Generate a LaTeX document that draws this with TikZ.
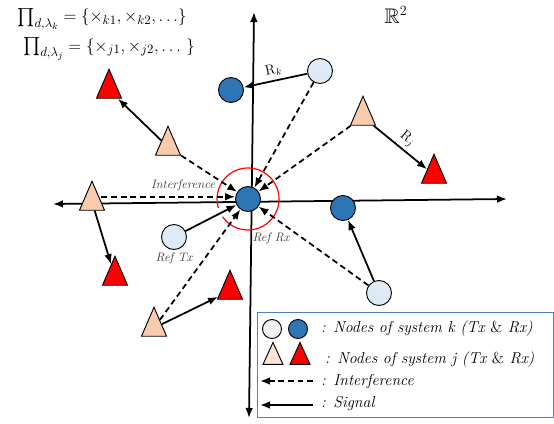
\documentclass[tikz,border=0pt]{standalone}
\usepackage{amssymb}
\usetikzlibrary{positioning,arrows.meta,shapes.geometric}

\definecolor{rxblue}{RGB}{46,117,182}
\definecolor{txblue}{RGB}{222,235,247}
\definecolor{txpeach}{RGB}{248,203,173}
\definecolor{lgdpeach}{RGB}{252,228,214}
\definecolor{lgdgray}{RGB}{240,240,240}
\definecolor{boxblue}{RGB}{79,129,189}
\definecolor{lblgray}{RGB}{64,64,64}

\begin{document}
\begin{tikzpicture}[
    x=0.03cm, y=-0.03cm,
    >={Latex[length=3mm,width=2.3mm]},
    knode/.style={
        circle,
        draw=black,
        line width=0.8pt,
        minimum size=0.75cm,
        inner sep=0pt
    },
    ktx/.style={knode, fill=txblue},
    krx/.style={knode, fill=rxblue},
    jnode/.style={
        isosceles triangle,
        isosceles triangle stretches,
        shape border rotate=90,
        draw=black,
        line width=0.8pt,
        minimum width=0.75cm,
        minimum height=0.87cm,
        inner sep=0pt
    },
    jtx/.style={jnode, fill=txpeach},
    jrx/.style={jnode, fill=red},
    signal/.style={->, line width=1.5pt},
    interf/.style={->, line width=1.5pt, dash pattern=on 5pt off 3.2pt},
    axis/.style={<->, line width=1.5pt},
    lbl/.style={font=\fontsize{10.5}{12}\selectfont\itshape, text=lblgray, inner sep=1pt},
    lgd/.style={font=\fontsize{13.5}{15}\selectfont\itshape, anchor=west, inner sep=0pt},
    rlbl/.style={font=\fontsize{12}{13}\selectfont, inner sep=3pt},
    setlbl/.style={font=\fontsize{15.5}{17}\selectfont, inner sep=0pt}
]
\useasboundingbox (0,0) rectangle (554,424);

% --- Axes ---
\coordinate (xl) at (53,204);
\coordinate (xr) at (507,199);
\coordinate (yt) at (254,12);
\coordinate (yb) at (249,418);
\draw[axis] (xl) -- (xr);
\draw[axis] (yb) -- (yt);

% --- Sets and space ---
\node[setlbl] (setk) at (102,19) {$\prod_{d,\lambda_k} = \{{\times}_{k1},{\times}_{k2}, \ldots\}$};
\node[setlbl] (setj) at (109,49) {$\prod_{d,\lambda_j} = \{{\times}_{j1},{\times}_{j2}, \ldots\ \}$};
\node[setlbl, font=\fontsize{18}{20}\selectfont] (space) at (396,15) {$\mathbb{R}^2$};

% --- Reference pair ---
\node[krx] (refrx) at (248,199) {};
\node[ktx] (reftx) at (174,237) {};
\draw[red, line width=1pt] ([shift={(215:0.93cm)}]refrx.center) arc[start angle=215, end angle=557, radius=0.93cm];

% --- System k ---
\node[krx] (krxa) at (231,90) {};
\node[ktx] (ktxa) at (320,71) {};
\node[krx] (krxb) at (343,208) {};
\node[ktx] (ktxb) at (379,293) {};

% --- System j ---
\node[jtx] (jtxa) at (363,117) {};
\node[jrx] (jrxa) at (434,175) {};
\node[jtx] (jtxb) at (168,147) {};
\node[jrx] (jrxb) at (109,90) {};
\node[jtx] (jtxc) at (92,202) {};
\node[jrx] (jrxc) at (115,277) {};
\node[jtx] (jtxd) at (154,328) {};
\node[jrx] (jrxd) at (230,291) {};

% --- Labels ---
\node[lbl, below=1pt of reftx] (reftxlbl) {Ref Tx};
\node[lbl] (refrxlbl) at (271,238) {Ref Rx};
\node[lbl] (interlbl) at (183,185) {Interference};

% --- Signals ---
\draw[signal] (reftx) -- (refrx);
\draw[signal] (ktxa) -- (krxa)
    node[midway, above, sloped, rlbl] {R$_k$};
\draw[signal] (ktxb) -- (krxb);
\draw[signal] (jtxa) -- (jrxa)
    node[midway, above, sloped, rlbl] {R$_j$};
\draw[signal] (jtxb) -- (jrxb);
\draw[signal] (jtxc) -- (jrxc);
\draw[signal] (jtxd) -- (jrxd);

% --- Interference ---
\draw[interf] (ktxa) -- (refrx);
\draw[interf] (jtxa) -- (refrx);
\draw[interf] (jtxb) -- (refrx);
\draw[interf] (jtxc.east |- refrx.170) -- (refrx.170);
\draw[interf] (ktxb) -- (refrx);
\draw[interf] (jtxd) -- (refrx);

% --- Legend ---
\node[draw=boxblue, line width=0.8pt, minimum width=8.88cm, minimum height=3.15cm, inner sep=0pt] (legend) at (405,364.5) {};
\node[knode, fill=lgdgray, minimum size=0.57cm] (lgktx) at (272,329) {};
\node[knode, fill=rxblue, minimum size=0.57cm] (lgkrx) at (298,329) {};
\node[lgd] (lgktext) at (321,329) {: Nodes of system k (Tx {\upshape\&} Rx)};
\node[jnode, fill=lgdpeach, minimum width=0.6cm, minimum height=0.66cm] (lgjtx) at (273,358) {};
\node[jnode, fill=red, minimum width=0.6cm, minimum height=0.66cm] (lgjrx) at (300,358) {};
\node[lgd] (lgjtext) at (325,360) {: Nodes of system j (Tx {\upshape\&} Rx)};
\coordinate (lgis) at (313,381);
\coordinate (lgie) at (260,381);
\draw[interf] (lgis) -- (lgie);
\node[lgd] (lgitext) at (321,382) {: Interference};
\coordinate (lgss) at (313,405);
\coordinate (lgse) at (260,405);
\draw[signal] (lgss) -- (lgse);
\node[lgd] (lgstext) at (321,404) {: Signal};

\end{tikzpicture}
\end{document}
